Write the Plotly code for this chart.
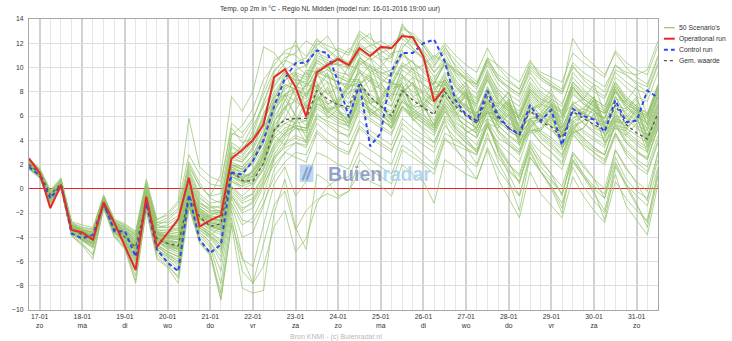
import pandas as pd
import plotly.graph_objects as go

# ---------------- data ----------------
start_time = "2016-01-16 18:00"
n_steps = 60  # 6-hourly values

day_ticks = ["2016-01-%02d" % d for d in range(17, 32)]
day_labels = ["17-01<br>zo", "18-01<br>ma", "19-01<br>di", "20-01<br>wo", "21-01<br>do",
              "22-01<br>vr", "23-01<br>za", "24-01<br>zo", "25-01<br>ma", "26-01<br>di",
              "27-01<br>wo", "28-01<br>do", "29-01<br>vr", "30-01<br>za", "31-01<br>zo"]

operational = [2.5, 1.3, -1.6, 0.3, -3.4, -3.6, -4.2, -1.1, -2.8, -4.8, -6.7, -0.65, -4.8, -3.65, -2.5,
               0.9, -3.1, -2.6, -2.2, 2.5, 3.2, 4.0, 5.3, 9.2, 9.85, 8.4, 5.95, 9.6, 10.2, 10.7,
               10.2, 11.6, 10.95, 11.7, 11.6, 12.6, 12.5, 10.9, 7.2, 8.3]

control = [1.8, 1.1, -0.8, 0.3, -3.7, -4.1, -3.8, -1.2, -3.5, -3.5, -5.6, -1.2, -5.0, -6.1, -6.8,
           -0.5, -4.2, -5.3, -4.6, 1.3, 1.2, 2.3, 4.0, 6.8, 9.1, 10.35, 10.4, 11.4, 11.2, 8.8,
           5.9, 8.6, 3.5, 4.6, 9.7, 11.2, 11.2, 12.0, 12.3, 10.5, 7.3, 6.1, 5.6, 8.1, 6.0,
           5.0, 4.5, 6.9, 5.6, 6.5, 3.6, 6.6, 6.0, 5.7, 4.7, 7.3, 5.5, 5.6, 8.1, 7.5]

mean_value = [2.0, 1.3, -0.5, 0.4, -3.3, -3.8, -4.2, -1.3, -3.3, -4.0, -4.8, -1.2, -4.1, -4.5, -4.7,
              -0.6, -2.3, -3.1, -2.9, 1.5, 0.7, 0.6, 2.1, 4.85, 5.7, 5.8, 5.8, 8.1, 7.4, 6.9,
              6.8, 8.75, 7.6, 6.8, 6.0, 8.1, 7.3, 6.7, 6.1, 8.0, 6.8, 6.0, 5.4, 7.6, 5.8,
              5.0, 4.4, 6.5, 5.5, 5.1, 4.2, 6.4, 5.8, 5.3, 4.8, 6.9, 5.3, 4.6, 4.1, 6.2]

s01 = [2.4,1.4,-1.2,0.5,-3.2,-3.5,-4.0,-1.0,-2.9,-4.4,-6.0,-0.8,-4.5,-3.8,-2.7,0.6,-2.5,-2.2,
       -1.8,2.8,3.4,4.2,5.6,
       8.8,9.6,8.9,6.8,9.8,10.3,10.9,10.4,11.8,11.2,11.5,11.9,12.8,12.2,11.0,8.2,9.0,
       7.8,6.5,6.0,8.4,6.2,5.5,4.8,7.2,6.0,5.4,4.6,7.0,6.2,5.8,5.1,7.6,6.0,5.2,4.8,7.0]
s02 = [2.1,1.2,-0.8,0.3,-3.6,-4.0,-4.3,-1.3,-3.4,-3.6,-5.2,-1.2,-4.6,-5.5,-6.0,-0.2,-3.0,-3.8,
       -3.2,1.6,1.0,2.4,4.5,
       7.5,8.9,9.8,10.2,11.5,11.0,10.3,9.2,10.8,10.0,9.5,9.8,12.0,11.4,10.8,9.6,10.5,
       9.8,9.0,8.6,10.8,10.2,9.4,8.8,10.6,9.2,8.5,8.0,10.2,9.0,8.2,7.6,9.8,9.4,8.6,8.0,10.4]
s03 = [1.9,1.3,-0.5,0.6,-3.0,-3.4,-3.6,-0.9,-3.0,-3.4,-4.2,-0.5,-3.6,-3.9,-4.0,0.2,-1.8,-2.4,
       -2.6,1.4,0.5,0.8,2.8,
       5.4,7.8,6.0,4.2,8.4,9.6,7.0,8.8,8.9,6.4,7.2,8.6,8.6,6.8,7.4,8.8,8.3,
       6.5,7.8,5.2,6.0,5.6,6.8,4.0,5.0,6.2,5.0,3.8,4.6,6.4,5.0,4.6,6.0,5.0,5.8,3.9,6.6]
s04 = [1.7,1.0,-1.0,0.2,-3.8,-4.5,-5.5,-1.5,-3.8,-4.8,-7.6,-1.6,-5.4,-6.2,-7.4,-1.2,-4.2,-5.2,
       -9.1,-3.0,-8.2,-8.6,-8.4,
       -2.0,0.8,-3.2,-5.0,1.2,0.6,-0.6,-0.2,2.4,1.5,1.0,0.4,3.2,2.6,2.0,1.2,4.0,
       3.6,3.2,2.8,5.2,3.4,2.0,1.2,4.0,3.0,2.4,1.6,4.4,3.6,3.0,2.2,4.6,2.8,1.8,1.2,3.8]
s05 = [2.2,1.5,-0.4,0.7,-2.8,-3.2,-3.3,-0.6,-2.6,-3.0,-3.6,0.4,-2.8,-2.4,-1.6,2.2,0.5,-0.8,
       -1.2,4.4,5.2,6.6,9.0,
       10.2,11.4,11.8,10.9,12.4,11.5,10.8,10.2,12.6,11.8,11.0,10.4,13.6,12.4,11.2,9.6,10.8,
       9.4,8.2,7.5,9.8,8.0,6.8,6.0,8.2,7.4,7.0,6.2,8.8,8.0,7.4,6.8,9.2,8.4,7.6,7.2,9.6]
s06 = [1.8,1.1,-0.9,0.2,-3.5,-4.2,-4.6,-1.4,-3.5,-4.1,-5.3,-1.3,-4.3,-4.9,-5.2,-0.9,-2.8,-3.3,
       -3.6,0.6,0.2,1.6,3.2,
       6.2,8.6,8.2,9.8,9.6,7.8,8.4,10.2,9.8,8.0,8.6,9.6,9.4,7.6,8.0,8.8,8.8,
       7.0,8.0,5.6,6.2,6.4,7.4,5.0,5.8,6.0,7.0,4.8,5.8,6.4,7.2,5.0,6.0,5.8,6.8,4.4,6.8]
s07 = [2.0,1.4,-0.3,0.5,-3.1,-3.6,-3.9,-1.0,-3.1,-3.8,-4.6,-0.8,-4.1,-4.6,-5.0,-1.0,-3.0,-3.6,
       -4.4,-0.4,-1.6,-1.2,0.4,
       2.0,3.0,2.6,2.2,4.6,3.8,3.2,2.8,5.0,4.2,3.6,3.0,5.4,4.6,4.0,3.4,5.8,
       4.6,3.8,3.2,5.6,4.2,3.6,3.0,5.2,4.2,3.4,2.6,5.0,4.0,3.2,2.8,5.4,3.8,3.0,2.6,5.0]
s08 = [2.3,1.6,-0.2,0.8,-2.9,-3.3,-3.5,-0.7,-2.7,-3.3,-4.0,0.0,-3.2,-3.0,-2.4,1.4,-0.6,-1.5,
       -1.9,3.4,3.0,4.8,7.2,
       9.2,10.4,12.2,10.0,11.8,12.6,11.2,9.8,12.2,12.8,10.6,9.4,11.6,12.6,11.8,10.4,11.4,
       10.2,9.4,8.6,10.6,9.0,8.2,7.6,9.6,8.4,7.8,7.0,9.2,8.2,7.4,6.8,8.8,7.6,6.8,6.2,8.6]
s09 = [1.9,1.2,-0.7,0.3,-3.4,-3.9,-4.2,-1.3,-3.3,-4.0,-5.0,-1.1,-4.2,-4.6,-4.9,-0.8,-2.5,-3.1,
       -3.3,1.0,0.6,0.4,1.8,
       4.4,3.6,5.6,7.2,7.8,5.8,6.6,8.0,8.4,6.2,6.6,7.8,7.8,5.6,6.4,7.6,7.6,
       6.4,4.6,5.0,7.2,5.4,6.4,4.0,4.8,5.0,6.2,3.8,5.0,5.6,6.6,4.4,5.2,5.0,6.0,3.6,5.8]
s10 = [1.6,0.9,-1.2,0.1,-3.9,-4.6,-5.4,-1.6,-3.9,-4.9,-7.2,-1.7,-5.6,-6.4,-7.2,-1.3,-4.4,-5.4,
       -8.6,-2.4,-6.8,-7.8,-4.6,
       -1.3,-0.2,-3.4,-1.8,-0.9,-0.4,-0.8,-0.2,1.4,0.6,0.2,-0.6,2.0,1.2,0.6,-1.2,2.4,
       1.8,1.2,0.8,3.4,1.6,0.4,-0.6,2.6,1.4,0.6,-0.4,2.8,1.2,0.2,-0.4,2.6,0.8,-0.2,-0.8,2.4]
s11 = [2.5,1.7,-0.1,0.9,-2.7,-3.0,-3.2,-0.5,-2.5,-2.9,-3.5,0.8,-2.5,-2.2,-1.2,2.8,1.2,0.4,
       0.2,5.4,4.6,5.8,7.8,
       9.8,10.6,10.2,9.4,11.2,10.8,11.6,11.2,13.0,12.4,11.8,11.0,12.8,11.6,10.6,9.2,10.2,
       8.4,7.4,6.8,9.0,7.2,6.6,6.0,8.0,7.0,6.6,5.8,8.4,7.4,6.8,6.2,8.6,7.2,6.4,5.8,8.2]
s12 = [2.1,1.4,-0.5,0.5,-3.2,-3.7,-4.0,-1.1,-3.1,-3.7,-4.6,-0.7,-3.7,-3.9,-3.8,0.0,-1.6,-2.3,
       -2.4,2.2,1.8,2.8,4.6,
       7.2,9.6,7.6,8.6,9.2,10.4,8.2,7.4,10.2,10.8,8.8,7.2,10.0,10.6,8.4,7.0,9.2,
       8.0,8.8,6.6,7.4,7.0,8.0,5.6,6.6,6.8,7.8,5.2,6.4,6.6,7.6,5.4,6.8,6.6,7.6,5.2,7.6]
s13 = [1.8,1.2,-0.8,0.2,-3.6,-4.1,-4.5,-1.4,-3.4,-4.2,-5.6,-1.4,-4.6,-5.2,-5.6,-1.1,-3.2,-3.9,
       -4.6,0.2,-0.6,0.2,1.6,
       3.8,4.8,5.2,5.0,7.4,6.6,6.0,5.6,7.6,7.0,6.4,5.6,7.2,6.4,5.8,5.2,7.0,
       5.8,5.2,4.6,6.8,5.2,4.4,3.6,5.8,4.8,4.2,3.4,5.6,4.8,4.2,3.6,6.0,4.6,3.8,3.2,5.6]
s14 = [2.0,1.3,-0.6,0.4,-3.1,-3.5,-3.8,-0.8,-2.8,-3.4,-4.2,-0.2,-3.0,-2.6,-1.8,1.8,0.2,-0.6,
       1.2,7.6,6.4,8.0,11.7,
       11.2,10.0,9.2,8.6,10.6,10.0,9.6,9.4,11.4,10.8,10.0,9.2,11.0,10.4,9.8,9.0,10.6,
       9.0,8.0,7.4,9.4,7.8,7.0,6.4,8.6,7.6,7.0,6.4,8.8,7.8,7.2,6.6,8.8,7.4,6.6,6.0,8.4]
s15 = [1.7,1.0,-1.1,0.0,-3.7,-4.3,-4.8,-1.5,-3.6,-4.4,-6.2,-1.5,-5.0,-5.6,-6.4,-1.4,-3.6,-4.4,
       -6.0,-1.2,-3.0,-2.4,-0.6,
       2.6,3.8,4.4,4.0,6.2,5.4,4.8,4.2,6.4,5.6,5.0,4.4,6.6,5.8,5.0,4.4,6.4,
       5.4,4.8,4.2,6.4,4.8,3.8,3.0,5.6,4.6,3.8,2.8,5.2,4.2,3.4,2.8,5.6,4.0,3.2,2.4,5.2]
s16 = [2.2,1.5,-0.4,0.6,-3.0,-3.5,-3.8,-1.0,-3.0,-3.6,-4.4,-0.6,-3.8,-4.2,-4.4,-0.4,-2.0,-2.6,
       -2.8,1.8,1.2,1.0,2.6,
       5.0,4.4,6.4,8.0,8.6,6.2,7.2,8.6,8.4,6.0,6.8,8.2,8.6,6.2,7.0,8.0,8.0,
       6.8,7.8,5.4,6.4,6.0,7.2,4.6,5.4,5.8,7.0,4.6,5.6,6.0,7.4,5.0,5.8,5.4,6.6,4.2,6.4]
s17 = [2.3,1.5,-0.3,0.7,-3.0,-3.4,-3.6,-0.8,-2.8,-3.2,-3.8,0.2,-3.0,-3.2,-3.0,1.0,-1.0,-1.8,
       -2.0,2.6,3.6,5.2,6.8,
       8.4,9.8,10.4,10.8,12.0,11.4,10.6,10.0,11.4,11.8,12.2,11.6,12.4,11.6,10.8,10.0,11.6,
       10.6,9.6,8.8,10.8,9.2,8.4,7.8,10.0,9.2,8.6,8.0,10.4,9.6,9.0,8.4,10.2,9.4,8.8,8.4,10.8]
s18 = [1.9,1.3,-0.7,0.4,-3.3,-3.8,-4.2,-1.2,-3.2,-3.8,-4.8,-0.9,-4.0,-4.4,-4.4,-0.2,-2.0,-2.8,
       -3.0,1.6,1.4,2.2,3.8,
       6.6,7.6,8.0,7.4,9.4,9.8,9.2,8.8,10.4,9.6,9.0,8.6,10.2,9.4,8.6,7.8,9.4,
       7.6,6.8,6.2,8.2,6.6,5.8,5.2,7.4,6.4,5.8,5.0,7.0,6.0,5.2,4.6,7.0,5.8,5.0,4.4,6.8]
s19 = [1.8,1.1,-0.9,0.2,-3.5,-4.2,-4.8,-1.3,-3.6,-4.5,-6.6,-1.4,-5.2,-6.0,-6.8,-1.5,-4.0,-4.8,
       -7.8,-1.8,-5.6,-7.8,-6.4,
       -3.1,-1.8,-5.2,-4.1,-1.2,0.2,0.8,1.0,3.0,2.4,1.8,1.2,3.6,3.0,2.2,1.6,4.2,
       3.2,2.4,1.8,4.2,2.6,1.4,0.6,3.4,2.2,1.2,0.2,3.0,1.8,0.8,0.0,3.2,1.6,0.6,-0.2,3.0]
s20 = [2.4,1.6,-0.3,0.6,-2.9,-3.4,-3.7,-0.9,-3.0,-3.5,-4.4,-0.4,-3.6,-3.6,-3.4,0.8,-1.2,-1.6,
       -1.4,3.6,2.8,4.0,6.2,
       8.0,9.2,9.6,9.2,11.0,10.6,10.2,10.4,12.0,11.2,10.6,10.8,13.2,12.8,12.0,10.8,12.0,
       11.0,10.2,9.6,11.6,10.0,9.0,8.2,10.2,9.4,8.8,8.2,12.4,11.0,10.2,9.4,11.2,10.0,9.2,8.6,11.0]
s21 = [2.0,1.2,-0.6,0.3,-3.4,-3.9,-4.1,-1.2,-3.3,-4.0,-5.1,-1.2,-4.4,-4.8,-5.0,-0.6,-2.4,-3.0,
       -3.4,0.8,0.2,0.6,2.2,
       4.6,6.8,5.2,3.8,7.2,8.4,6.4,5.0,8.0,9.0,6.6,5.0,7.8,8.8,6.8,5.2,8.4,
       7.2,8.0,5.8,6.2,5.6,6.6,4.2,5.2,5.6,6.8,4.4,5.4,6.0,7.0,4.8,5.6,5.2,6.4,4.0,6.2]
s22 = [1.8,1.1,-0.8,0.2,-3.6,-4.1,-4.4,-1.4,-3.5,-4.3,-5.8,-1.4,-4.8,-5.4,-6.0,-1.2,-3.4,-4.0,
       -5.0,-0.6,-1.8,-1.0,0.6,
       2.8,4.2,5.0,4.6,6.6,6.0,5.4,5.2,7.2,6.4,5.8,5.0,6.8,6.2,5.6,5.0,7.0,
       6.0,5.2,4.6,6.6,4.8,4.0,3.2,5.4,4.4,3.6,2.8,4.8,3.8,3.0,2.4,4.6,3.2,2.4,1.8,4.4]
s23 = [2.2,1.4,-0.5,0.6,-3.1,-3.6,-3.9,-1.0,-2.9,-3.4,-4.0,-0.2,-3.4,-3.4,-3.2,1.2,-0.8,-1.4,
       -1.6,3.0,2.6,3.8,6.0,
       8.6,9.4,9.0,8.8,10.8,10.4,10.2,10.0,11.2,10.6,11.2,11.6,12.6,12.0,11.4,10.2,11.2,
       9.6,8.6,7.8,9.6,8.2,7.4,6.8,8.8,7.8,7.2,6.4,8.4,7.4,6.8,6.2,8.0,7.0,6.4,6.0,8.2]
s24 = [2.1,1.3,-0.6,0.4,-3.2,-3.7,-4.0,-1.1,-3.1,-3.8,-4.6,-0.8,-3.8,-4.0,-4.0,-0.1,-1.8,-2.4,
       -2.6,2.0,1.6,2.6,4.2,
       6.8,8.2,8.8,8.4,9.8,9.2,8.8,8.4,9.6,9.0,8.4,7.6,9.4,8.6,7.8,7.2,9.0,
       7.4,6.6,6.0,8.0,6.8,6.0,5.4,7.6,6.6,6.0,5.4,7.8,7.0,6.4,5.8,8.0,6.8,6.2,5.6,7.8]
s25 = [1.9,1.3,-0.7,0.3,-3.3,-3.8,-4.3,-1.3,-3.3,-3.9,-5.0,-1.0,-4.0,-4.6,-4.8,-0.7,-2.4,-3.0,
       -3.2,1.2,0.8,1.4,3.0,
       5.2,6.4,8.4,6.6,8.2,9.4,7.0,6.0,8.6,9.6,7.0,5.6,8.2,9.2,6.8,5.2,7.8,
       6.2,7.2,4.8,5.8,5.2,6.2,3.8,4.8,4.8,6.0,3.4,4.6,5.0,6.2,3.8,5.0,4.4,5.4,3.0,5.4]
s26 = [2.3,1.5,-0.4,0.6,-3.0,-3.4,-3.6,-0.7,-2.8,-3.2,-3.9,0.2,-3.2,-3.2,-2.8,1.6,-0.4,-1.2,
       -1.0,3.8,3.2,4.4,7.0,
       9.6,10.8,11.2,12.2,11.6,10.0,10.4,11.6,11.0,9.6,10.0,11.2,11.4,9.8,10.2,11.0,10.4,
       8.8,7.8,7.2,9.4,7.6,6.8,6.2,8.4,7.4,6.8,6.2,8.6,7.6,7.0,6.4,8.4,7.2,6.6,6.0,8.2]
s27 = [1.7,1.0,-1.0,0.1,-3.7,-4.3,-4.9,-1.5,-3.7,-4.6,-6.4,-1.5,-5.0,-5.8,-6.6,-1.3,-3.8,-4.6,
       -6.8,-1.4,-4.0,-3.6,-1.4,
       1.6,3.0,3.8,3.6,5.8,5.2,4.6,4.4,6.6,5.8,5.2,4.6,6.8,6.0,5.4,4.8,6.8,
       5.6,4.8,4.2,6.4,4.6,3.6,2.8,5.0,3.8,3.0,2.0,4.6,3.4,2.6,2.0,4.4,3.0,2.2,1.4,4.0]
s28 = [2.1,1.4,-0.5,0.5,-3.2,-3.7,-4.1,-1.1,-3.2,-3.8,-4.8,-0.8,-3.9,-4.3,-4.5,-0.5,-2.2,-2.8,
       -3.0,1.4,1.0,1.4,2.6,
       4.8,5.8,7.6,6.0,8.0,6.4,6.8,8.4,8.8,7.0,7.6,8.8,8.0,6.0,6.6,7.8,7.6,
       6.6,7.6,5.4,6.6,6.2,7.2,4.8,5.8,5.8,7.0,4.4,5.8,6.2,7.4,5.2,6.4,6.0,7.0,4.8,7.0]
s29 = [2.4,1.6,-0.2,0.8,-2.8,-3.2,-3.4,-0.6,-2.6,-3.1,-3.7,0.6,-2.8,-2.8,-2.2,2.0,0.2,-0.6,
       -0.4,4.6,4.2,5.6,8.2,
       10.6,11.2,11.0,10.2,12.2,11.8,11.4,11.0,12.8,12.0,11.4,10.8,13.4,12.6,11.8,10.6,11.8,
       10.0,9.0,8.2,10.2,8.6,7.8,7.2,9.2,8.0,7.4,6.8,9.6,8.6,8.0,7.4,9.6,8.8,8.2,7.8,10.2]
s30 = [1.8,1.1,-0.9,0.2,-3.6,-4.2,-4.7,-1.4,-3.6,-4.4,-6.0,-1.4,-5.0,-5.6,-6.2,-1.2,-3.6,-4.4,
       -5.6,-0.8,-2.6,-2.8,-1.2,
       1.0,2.2,3.0,2.8,4.8,4.0,3.4,3.0,5.2,4.4,3.8,3.2,5.0,4.2,3.6,3.0,5.2,
       4.2,3.4,2.0,4.6,2.2,0.6,-1.8,2.6,1.4,0.0,-2.0,2.4,1.2,-0.2,-2.6,1.8,0.4,-1.2,-3.2,1.0]
s31 = [2.0,1.3,-0.6,0.4,-3.3,-3.7,-4.0,-1.1,-3.1,-3.7,-4.6,-0.7,-3.8,-4.1,-4.2,-0.3,-2.0,-2.5,
       -2.6,1.9,1.6,2.4,4.0,
       6.4,7.8,8.4,8.2,10.0,9.4,8.8,8.2,9.8,9.2,8.6,7.8,9.8,9.2,8.6,8.0,9.6,
       8.4,7.6,7.0,9.0,7.2,6.4,5.8,7.8,6.8,6.2,5.6,8.0,7.0,6.4,5.8,8.2,7.0,6.4,5.8,8.0]
s32 = [1.9,1.2,-0.7,0.3,-3.4,-3.9,-4.2,-1.2,-3.3,-4.0,-5.0,-1.1,-4.2,-4.7,-5.0,-0.8,-2.6,-3.2,
       -3.4,1.0,0.6,1.0,2.4,
       4.2,5.0,5.4,5.6,7.6,7.0,6.4,6.0,8.2,7.4,6.8,6.4,8.4,7.6,7.0,6.4,8.2,
       7.0,6.2,5.6,7.8,6.0,5.2,4.6,6.8,5.8,5.2,4.4,6.4,5.4,4.8,4.2,6.4,4.8,4.0,3.4,5.8]
s33 = [1.8,1.1,-0.8,0.2,-3.5,-4.0,-4.4,-1.3,-3.4,-4.2,-5.4,-1.2,-4.4,-5.0,-5.4,-1.0,-3.0,-3.6,
       -4.2,0.2,-0.8,-0.4,1.0,
       3.2,4.4,5.0,4.8,7.0,6.4,5.8,5.4,7.4,6.6,6.0,5.4,7.2,6.4,5.6,4.8,6.4,
       4.8,3.8,3.0,5.2,3.2,2.0,1.0,3.6,1.8,0.8,-0.4,2.4,1.0,0.0,-0.8,2.2,0.4,-0.6,-1.4,1.8]
s34 = [2.0,1.3,-0.6,0.4,-3.3,-3.8,-4.1,-1.2,-3.2,-3.9,-4.9,-1.0,-4.1,-4.5,-4.8,-0.7,-2.5,-3.1,
       -3.4,1.0,0.4,0.8,2.0,
       4.4,5.4,5.8,5.6,7.6,6.8,6.2,5.8,7.8,7.0,6.2,5.4,7.4,6.6,5.8,5.0,6.8,
       5.0,4.0,3.2,5.4,3.0,1.6,0.6,3.2,1.4,0.2,-1.2,1.8,0.2,-1.0,-2.0,1.2,-1.4,-2.6,-3.8,0.4]
s35 = [1.9,1.2,-0.7,0.3,-3.4,-3.9,-4.3,-1.3,-3.3,-4.1,-5.2,-1.1,-4.3,-4.8,-5.2,-0.9,-2.8,-3.4,
       -3.8,0.6,0.0,0.4,1.6,
       3.6,4.6,5.2,5.0,7.2,6.4,5.8,5.4,7.4,6.6,5.8,5.0,6.8,5.8,4.8,3.8,5.6,
       3.4,2.0,0.8,3.2,0.8,-0.8,-2.4,1.4,-0.4,-1.4,-2.4,1.0,-0.6,-1.8,-2.8,0.6,-0.8,-1.8,-2.6,1.2]
s36 = [2.1,1.4,-0.5,0.5,-3.1,-3.6,-3.9,-1.0,-3.0,-3.6,-4.5,-0.6,-3.7,-4.0,-4.1,0.0,-1.6,-2.2,
       -2.4,2.0,1.6,2.0,3.4,
       5.6,6.6,8.4,9.6,8.8,7.0,7.4,9.0,9.0,7.0,7.4,8.8,8.4,6.6,7.0,8.4,8.6,
       7.6,8.6,6.2,7.0,6.8,8.0,5.6,6.6,7.0,8.2,6.0,7.0,7.4,8.6,6.2,7.4,7.2,8.4,6.0,8.4]
s37 = [2.2,1.5,-0.4,0.6,-3.0,-3.5,-3.8,-0.9,-2.9,-3.5,-4.3,-0.4,-3.5,-3.7,-3.6,0.4,-1.4,-2.0,
       -2.2,2.4,2.2,3.2,5.0,
       7.0,8.4,9.0,8.6,10.4,9.8,9.2,8.8,10.6,9.8,9.2,8.4,10.2,9.6,9.0,8.6,10.4,
       9.6,9.0,8.4,10.6,9.4,8.8,8.2,10.4,9.6,9.2,8.8,11.2,10.4,9.8,9.2,11.4,10.4,9.8,9.4,11.8]
s38 = [2.0,1.3,-0.6,0.4,-3.3,-3.8,-4.0,-1.2,-3.2,-3.9,-4.8,-0.9,-4.0,-4.3,-4.4,-0.4,-2.1,-2.7,
       -2.9,1.3,0.9,1.2,2.8,
       5.0,5.8,5.4,6.8,7.4,8.2,6.4,5.6,8.6,9.2,7.0,5.8,8.0,8.8,6.8,5.6,8.2,
       7.0,6.0,5.4,7.4,5.6,4.8,4.2,6.6,5.6,5.2,4.6,6.8,6.2,5.8,5.4,7.6,6.2,5.6,5.0,7.2]
s39 = [1.7,1.0,-1.0,0.1,-3.7,-4.2,-4.6,-1.5,-3.6,-4.4,-5.8,-1.3,-4.8,-5.4,-5.8,-1.2,-3.4,-4.1,
       -5.2,-0.6,-2.0,-1.6,0.2,
       2.4,3.6,4.2,3.8,6.0,5.6,5.2,4.8,6.8,6.2,5.6,5.2,7.2,6.6,6.0,5.4,7.2,
       6.2,5.6,5.0,7.2,5.6,4.8,4.2,6.4,5.4,4.8,4.0,6.4,5.4,4.6,4.0,6.2,5.0,4.4,3.8,6.0]
s40 = [2.2,1.4,-0.5,0.5,-3.1,-3.6,-3.9,-1.0,-3.0,-3.6,-4.4,-0.5,-3.6,-3.8,-3.6,0.4,-1.4,-2.0,
       -2.0,2.6,2.2,3.4,5.4,
       7.8,9.0,9.4,9.0,10.6,10.0,9.4,9.0,10.8,10.2,9.6,9.2,11.2,10.4,9.6,8.8,10.2,
       8.6,7.6,7.0,9.2,7.4,6.6,6.0,8.2,7.2,6.6,6.0,8.4,7.2,6.4,5.8,8.2,6.8,6.0,5.4,7.8]
s41 = [1.9,1.2,-0.7,0.3,-3.4,-3.9,-4.2,-1.2,-3.3,-4.0,-5.0,-1.1,-4.2,-4.6,-4.8,-0.7,-2.4,-3.0,
       -3.2,1.2,0.6,0.8,2.2,
       4.6,7.4,6.0,5.2,8.0,8.8,6.6,5.4,8.6,9.4,6.8,5.6,8.0,8.6,6.2,5.0,7.4,
       6.0,7.0,4.4,5.4,5.0,6.2,3.6,4.6,4.8,6.0,3.4,4.6,5.0,6.2,3.8,5.0,4.8,6.0,3.4,5.8]
s42 = [2.1,1.4,-0.5,0.5,-3.2,-3.6,-3.9,-1.0,-3.1,-3.7,-4.6,-0.7,-3.7,-3.9,-3.9,0.0,-1.7,-2.4,
       -2.6,2.0,1.8,2.8,4.6,
       6.8,7.8,8.2,7.8,9.4,8.8,8.2,7.8,9.6,8.8,8.2,7.4,9.2,8.6,8.0,7.4,9.0,
       7.6,6.8,6.2,8.4,7.0,6.4,5.8,8.0,7.0,6.4,5.8,8.2,7.4,6.8,6.2,8.4,7.4,6.8,6.2,8.6]
s43 = [1.8,1.1,-0.9,0.2,-3.6,-4.1,-4.5,-1.4,-3.5,-4.3,-5.6,-1.3,-4.6,-5.2,-5.6,-1.1,-3.2,-3.9,
       -4.8,-0.2,-1.2,-0.8,0.8,
       2.6,3.4,3.8,3.4,5.4,4.6,4.0,3.6,5.6,4.8,4.2,3.6,5.8,5.0,4.4,3.8,6.0,
       5.0,4.2,3.0,5.4,3.6,2.2,0.4,3.8,2.4,1.2,-0.6,3.0,2.0,0.8,-0.8,3.2,1.8,0.4,-1.0,3.0]
s44 = [2.0,1.3,-0.6,0.4,-3.3,-3.8,-4.1,-1.2,-3.2,-3.9,-4.9,-0.9,-4.0,-4.4,-4.6,-0.5,-2.2,-2.8,
       -3.0,1.4,0.9,1.4,3.0,
       5.6,6.8,7.2,8.6,8.4,7.0,7.2,8.4,8.8,7.2,7.2,8.4,8.4,6.8,6.8,8.0,8.0,
       6.8,7.8,5.4,6.4,5.8,7.0,4.4,5.6,5.6,6.6,4.2,5.2,5.6,6.8,4.4,5.6,5.4,6.6,4.2,6.4]
s45 = [2.3,1.5,-0.4,0.6,-3.0,-3.5,-3.8,-0.9,-2.9,-3.4,-4.2,-0.3,-3.4,-3.5,-3.3,0.6,-1.2,-1.8,
       -1.8,2.8,2.4,3.4,5.6,
       7.6,8.6,8.2,7.6,9.6,9.2,8.8,8.6,10.6,10.0,9.4,8.8,10.4,9.8,9.2,8.6,10.4,
       9.8,9.2,8.6,10.4,9.0,8.4,7.8,9.8,9.0,8.4,7.8,10.0,9.2,8.6,8.0,10.2,9.6,9.4,9.8,12.2]
s46 = [1.8,1.1,-0.8,0.2,-3.5,-4.1,-4.5,-1.4,-3.5,-4.3,-5.6,-1.3,-4.6,-5.2,-5.6,-1.0,-3.2,-3.8,
       -4.6,0.0,-1.0,-0.4,1.2,
       3.4,4.6,5.2,5.0,6.8,6.2,5.6,5.2,7.0,6.4,5.8,5.0,6.8,6.0,5.4,4.6,6.6,
       5.2,4.4,3.6,5.8,3.0,1.2,-0.6,3.0,1.4,0.2,-1.6,2.2,1.0,-0.4,-1.8,2.0,0.2,-1.4,-2.8,1.6]
s47 = [2.1,1.4,-0.5,0.5,-3.2,-3.7,-4.0,-1.1,-3.1,-3.7,-4.7,-0.8,-3.8,-4.1,-4.2,-0.2,-1.9,-2.5,
       -2.7,1.8,1.4,2.2,3.8,
       6.0,7.2,9.6,7.6,9.4,10.4,8.0,7.0,9.2,10.2,8.0,6.8,9.0,10.0,7.6,6.6,8.8,
       7.2,8.2,5.8,6.8,6.4,7.4,5.0,6.2,6.2,7.4,5.0,6.2,6.6,7.6,5.4,6.6,6.4,7.4,5.2,7.4]
s48 = [1.6,0.9,-1.3,0.0,-3.9,-4.7,-5.8,-1.6,-4.0,-5.0,-7.8,-1.8,-5.8,-6.5,-7.8,-1.5,-4.5,-5.5,
       -9.2,-2.8,-5.8,-6.4,-3.0,
       0.4,1.8,-0.6,0.6,3.0,2.6,2.0,1.6,3.8,3.2,2.6,2.0,4.4,3.6,2.8,2.0,4.6,
       4.0,3.4,2.8,5.2,3.8,3.0,2.2,4.8,3.8,3.0,2.2,5.0,4.2,3.4,2.8,5.2,3.8,3.0,2.4,5.0]
s49 = [2.0,1.3,-0.6,0.4,-3.3,-3.8,-4.1,-1.2,-3.2,-3.9,-4.9,-1.0,-4.1,-4.5,-4.7,-0.6,-2.3,-2.9,
       -3.1,1.3,0.8,1.0,2.4,
       4.8,5.4,5.0,4.8,7.0,6.6,6.8,6.6,8.4,7.8,7.2,6.8,8.8,8.0,7.4,6.8,8.6,
       7.4,6.6,6.0,8.0,6.2,5.4,4.8,7.0,6.0,5.6,5.0,7.2,6.6,6.2,5.8,8.0,6.6,6.0,5.4,7.6]
s50 = [2.2,1.5,-0.4,0.6,-3.0,-3.4,-3.6,-0.8,-2.7,-3.2,-3.8,0.4,-2.6,-2.0,-1.0,5.8,1.8,1.0,
       0.6,5.0,3.8,4.2,5.8,
       7.2,7.8,7.2,6.6,8.6,7.8,7.0,6.6,8.4,7.6,6.8,6.2,8.0,7.4,6.8,6.2,7.8,
       6.4,5.6,5.0,7.0,5.2,4.4,3.8,5.8,4.6,4.0,3.2,5.4,4.6,4.0,3.4,5.8,4.4,3.6,3.0,5.4]

scenarios = [s01, s02, s03, s04, s05, s06, s07, s08, s09, s10, s11, s12, s13, s14, s15, s16, s17,
             s18, s19, s20, s21, s22, s23, s24, s25, s26, s27, s28, s29, s30, s31, s32, s33, s34,
             s35, s36, s37, s38, s39, s40, s41, s42, s43, s44, s45, s46, s47, s48, s49, s50]

legend_names = ["50 Scenario's", "Operational run", "Control run", "Gem. waarde"]
title_text = "Temp. op 2m in °C - Regio NL Midden (model run: 16-01-2016 19:00 uur)"
credit_text = "Bron KNMI - (c) Buienradar.nl"

# ---------------- figure ----------------
times = pd.date_range(start_time, periods=n_steps, freq="6h")

GREEN = "rgba(148,194,108,0.72)"
RED = "#e62a2a"
BLUE = "#3347f0"
GEM = "#555555"
FONT = "Liberation Sans, Arial, sans-serif"

fig = go.Figure()
for s in scenarios:
    fig.add_trace(go.Scatter(x=times, y=s, mode="lines", line=dict(color=GREEN, width=1),
                             hoverinfo="skip", showlegend=False))
fig.add_trace(go.Scatter(x=times, y=mean_value, mode="lines",
                         line=dict(color=GEM, width=1.3, dash="dot"), showlegend=False))
fig.add_trace(go.Scatter(x=times, y=control, mode="lines",
                         line=dict(color=BLUE, width=2, dash="4px,3px"), showlegend=False))
fig.add_trace(go.Scatter(x=times[:len(operational)], y=operational, mode="lines",
                         line=dict(color=RED, width=2), showlegend=False))

L, R, T, B, W, H = 19, 74, 19, 31, 732, 341
PW, PH = W - L - R, H - T - B


def px(xp):
    return (xp - L) / PW


def py(yp):
    return (H - B - yp) / PH


shapes = []
annotations = []

# custom legend
leg_rows = [27.7, 38.7, 49.7, 60.7]
leg_styles = [dict(color="rgb(148,194,108)", width=1.2),
              dict(color=RED, width=2),
              dict(color=BLUE, width=2, dash="4px,3px"),
              dict(color=GEM, width=1.3, dash="dot")]
for name, yy, st in zip(legend_names, leg_rows, leg_styles):
    shapes.append(dict(type="line", xref="paper", yref="paper", x0=px(664), x1=px(675),
                       y0=py(yy), y1=py(yy), line=st))
    annotations.append(dict(text=name, xref="paper", yref="paper", x=px(677), y=py(yy),
                            xanchor="left", yanchor="middle", showarrow=False,
                            font=dict(family=FONT, size=6.8, color="#333333")))

# watermark logo
shapes.append(dict(type="rect", xref="paper", yref="paper", x0=px(294), x1=px(308),
                   y0=py(182), y1=py(165), fillcolor="rgba(160,200,235,0.7)",
                   line=dict(width=0), layer="above"))
shapes.append(dict(type="line", xref="paper", yref="paper", x0=px(297), x1=px(302),
                   y0=py(180), y1=py(167), line=dict(color="rgba(120,145,195,0.75)", width=2.2),
                   layer="above"))
shapes.append(dict(type="line", xref="paper", yref="paper", x0=px(301), x1=px(306),
                   y0=py(180), y1=py(167), line=dict(color="rgba(120,145,195,0.75)", width=2.2),
                   layer="above"))

annotations.append(dict(
    text="<b><span style='color:rgba(120,140,188,0.78)'>Buien</span>"
         "<span style='color:rgba(165,208,238,0.85)'>radar</span></b>",
    xref="paper", yref="paper", x=px(375), y=py(173.5), xanchor="center", yanchor="middle",
    showarrow=False, font=dict(family=FONT, size=19.5)))

annotations.append(dict(text=credit_text, xref="paper", yref="paper", x=px(331), y=py(337),
                        xanchor="center", yanchor="middle", showarrow=False,
                        font=dict(family=FONT, size=7, color="#b8b8b8")))

fig.update_layout(
    width=W, height=H,
    margin=dict(l=L, r=R, t=T, b=B, pad=0),
    paper_bgcolor="white", plot_bgcolor="white",
    font=dict(family=FONT, size=6.8, color="#333333"),
    title=dict(text=title_text, x=330 / W, xanchor="center", y=1 - 8.5 / H, yanchor="middle",
               font=dict(family=FONT, size=6.8, color="#333333")),
    showlegend=False,
    shapes=shapes,
    annotations=annotations,
)

fig.update_xaxes(
    range=[times[0], times[-1]],
    tickmode="array", tickvals=day_ticks, ticktext=day_labels,
    showgrid=True, gridcolor="#d2d2d2", gridwidth=1.6,
    minor=dict(tick0=start_time, dtick=6 * 3600 * 1000, showgrid=True,
               gridcolor="#e6e6e6", gridwidth=1),
    showline=True, mirror=True, linecolor="#a8a8a8", linewidth=1,
    ticks="", tickfont=dict(family=FONT, size=6.8, color="#333333"),
    zeroline=False,
)
fig.update_yaxes(
    range=[-10, 14], dtick=2, tick0=0,
    showgrid=True, gridcolor="#dddddd", gridwidth=1,
    zeroline=True, zerolinecolor="#ee2222", zerolinewidth=1,
    showline=True, mirror=True, linecolor="#a8a8a8", linewidth=1,
    ticks="", ticklabelstandoff=3, tickfont=dict(family=FONT, size=6.8, color="#333333"),
)

fig.write_html("out.html")
